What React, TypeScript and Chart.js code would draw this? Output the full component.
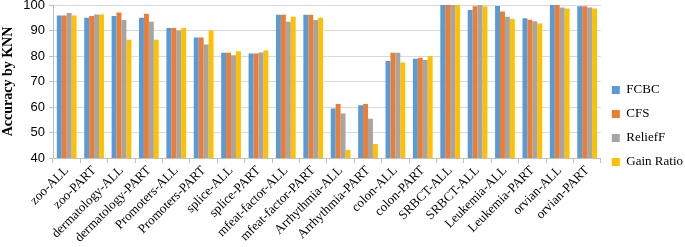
import React, { useEffect, useRef } from "react";
import { Chart, registerables } from "chart.js";

Chart.register(...registerables);

const categories = [
  "zoo-ALL", "zoo-PART", "dermatology-ALL", "dermatology-PART", "Promoters-ALL",
  "Promoters-PART", "splice-ALL", "splice-PART", "mfeat-factor-ALL", "mfeat-factor-PART",
  "Arrhythmia-ALL", "Arrhythmia-PART", "colon-ALL", "colon-PART", "SRBCT-ALL",
  "SRBCT-ALL", "Leukemia-ALL", "Leukemia-PART", "orvian-ALL", "orvian-PART",
];
const fcbc = [95.9, 95.0, 95.7, 95.0, 91.0, 87.3, 81.3, 81.0, 96.2, 96.2, 59.4, 60.7, 78.0, 78.9, 100, 98.0, 99.6, 94.8, 100, 99.5];
const cfs = [95.9, 95.7, 97.1, 96.6, 91.0, 87.3, 81.3, 81.0, 96.2, 96.2, 61.2, 61.2, 81.3, 79.3, 100, 99.5, 97.5, 94.2, 100, 99.5];
const relieff = [96.9, 96.3, 94.1, 93.4, 90.0, 84.5, 80.3, 81.4, 93.4, 94.1, 57.5, 55.4, 81.3, 78.4, 100, 100, 95.4, 93.6, 99.0, 99.0];
const gainRatio = [95.9, 96.3, 86.4, 86.4, 91.0, 90.0, 81.9, 82.2, 95.4, 95.0, 43.1, 45.5, 77.5, 80.0, 100, 99.5, 94.5, 92.7, 98.6, 98.6];
const yTicks = [40, 50, 60, 70, 80, 90, 100];

const seriesNames = ["FCBC", "CFS", "ReliefF", "Gain Ratio"];
const seriesColors = ["#5B9BD5", "#ED7D31", "#A5A5A5", "#FFC000"];

export default function App() {
  const ref = useRef<HTMLCanvasElement | null>(null);
  useEffect(() => {
    if (!ref.current) return;
    const values = [fcbc, cfs, relieff, gainRatio];
    const chart = new Chart(ref.current, {
      type: "bar",
      data: {
        labels: categories,
        datasets: values.map((v, i) => ({
          label: seriesNames[i],
          data: v,
          backgroundColor: seriesColors[i],
          borderWidth: 0,
          barPercentage: 1,
          categoryPercentage: 0.72,
        })),
      },
      options: {
        animation: false,
        responsive: false,
        maintainAspectRatio: false,
        layout: { padding: { top: 5, right: -8, bottom: 0, left: 0 } },
        plugins: {
          tooltip: { enabled: false },
          legend: {
            position: "right",
            align: "center",
            labels: {
              boxWidth: 8,
              boxHeight: 8,
              padding: 11,
              color: "#000",
              font: { family: "'Liberation Serif', 'Times New Roman', serif", size: 13 },
            },
          },
        },
        scales: {
          x: {
            grid: {
              display: true,
              offset: true,
              drawOnChartArea: false,
              drawTicks: true,
              tickLength: 5,
              color: "#BFBFBF",
            },
            border: { display: true, color: "#BFBFBF" },
            ticks: {
              autoSkip: false,
              maxRotation: 45,
              minRotation: 45,
              color: "#000",
              padding: 0,
              font: { family: "'Liberation Serif', 'Times New Roman', serif", size: 13 },
            },
            afterFit: (s: any) => { s.height = 89; s.paddingLeft = 0; s.paddingRight = 0; },
          },
          y: {
            min: 40,
            max: 100,
            afterBuildTicks: (s: any) => { s.ticks = yTicks.map((v) => ({ value: v })); },
            grid: { color: "#D9D9D9", drawTicks: true, tickLength: 4, tickColor: "#BFBFBF", lineWidth: 1 },
            border: { display: true, color: "#BFBFBF" },
            ticks: {
              color: "#000",
              padding: 4,
              font: { family: "'Liberation Sans', Arial, sans-serif", size: 13 },
            },
            title: {
              display: true,
              text: "Accuracy by KNN",
              color: "#000",
              padding: { top: 0, bottom: 2 },
              font: { family: "'Liberation Serif', 'Times New Roman', serif", size: 14, weight: "bold" },
            },
            afterFit: (s: any) => { s.width = 53; s.paddingTop = 0; s.paddingBottom = 0; },
          },
        },
      },
    });
    return () => chart.destroy();
  }, []);
  return (
    <div style={{ position: "absolute", left: 0, top: 0, width: 685, height: 247 }}>
      <canvas ref={ref} width={685} height={247} style={{ width: 685, height: 247 }} />
    </div>
  );
}
